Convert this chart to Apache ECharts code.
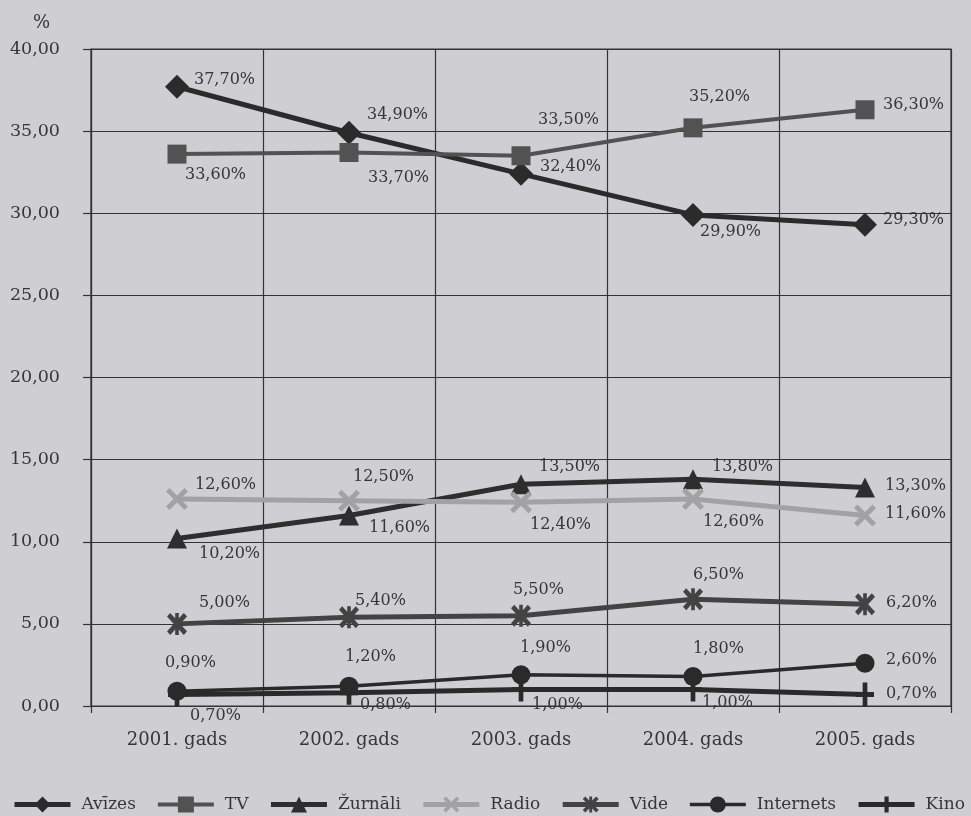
<!DOCTYPE html>
<html>
<head>
<meta charset="utf-8">
<script src="https://cdn.jsdelivr.net/npm/echarts@6/dist/echarts.min.js"></script>
<style>
  html, body { margin: 0; padding: 0; background: #cfced3; }
  #chart { width: 971px; height: 816px; }
</style>
</head>
<body>
<div id="chart"></div>
<script>
// Years on the horizontal axis
const categories = ['2001. gads', '2002. gads', '2003. gads', '2004. gads', '2005. gads'];

// Share of audience per media type, %
const avizes    = [37.7, 34.9, 32.4, 29.9, 29.3];
const tv        = [33.6, 33.7, 33.5, 35.2, 36.3];
const zurnali   = [10.2, 11.6, 13.5, 13.8, 13.3];
const radio     = [12.6, 12.5, 12.4, 12.6, 11.6];
const vide      = [5.0, 5.4, 5.5, 6.5, 6.2];
const internets = [0.9, 1.2, 1.9, 1.8, 2.6];
const kino      = [0.7, 0.8, 1.0, 1.0, 0.7];

// Value axis range
const yMin = 0, yMax = 40, yStep = 5;

// Where each value label sits relative to its marker centre (px)
const avizesLbl    = [[17, -7], [18, -18], [19, -7], [7, 17], [18, -5]];
const tvLbl        = [[8, 21], [19, 25], [17, -36], [-4, -31], [18, -5]];
const zurnaliLbl   = [[22, 15], [20, 12], [18, -17], [19, -12], [20, -2]];
const radioLbl     = [[18, -14], [4, -24], [9, 23], [10, 23], [20, -2]];
const videLbl      = [[22, -21], [6, -16], [-8, -26], [0, -24], [21, -1]];
const internetsLbl = [[-12, -28], [-4, -29], [-1, -27], [0, -28], [21, -3]];
const kinoLbl      = [[13, 21], [11, 12], [11, 15], [9, 13], [21, -1]];

const FONT = 'DejaVu Serif';
const TEXT = '#363636';

const X_PATH = 'path://M0,1.6L1.6,0L5,3.4L8.4,0L10,1.6L6.6,5L10,8.4L8.4,10L5,6.6L1.6,10L0,8.4L3.4,5Z';
const STAR_PATH = 'path://M0,1.6L1.6,0L5,3.4L8.4,0L10,1.6L6.6,5L10,8.4L8.4,10L5,6.6L1.6,10L0,8.4L3.4,5Z M4.1,0L5.9,0L5.9,10L4.1,10Z';
const PLUS_PATH = 'path://M3.7,0L6.3,0L6.3,4L10,4L10,6L6.3,6L6.3,10L3.7,10L3.7,6L0,6L0,4L3.7,4Z';

const pct = v => v.toFixed(2).replace('.', ',') + '%';

function makeSeries(name, values, offsets, color, width, symbol, size) {
  return {
    name: name,
    type: 'line',
    data: values.map((v, i) => ({ value: v, label: { offset: offsets[i] } })),
    symbol: symbol,
    symbolSize: size,
    showAllSymbol: true,
    lineStyle: { color: color, width: width },
    itemStyle: { color: color, borderWidth: 0 },
    label: {
      show: true,
      position: 'inside',
      align: 'left',
      verticalAlign: 'middle',
      formatter: p => pct(p.value),
      color: TEXT,
      fontFamily: FONT,
      fontSize: 16
    },
    emphasis: { disabled: true },
    animation: false
  };
}

const chart = echarts.init(document.getElementById('chart'), null, { renderer: 'canvas' });

chart.setOption({
  backgroundColor: '#cfced3',
  animation: false,
  grid: {
    left: 91, right: 20, top: 49, bottom: 110,
    show: true, borderColor: '#333', borderWidth: 1.2, backgroundColor: 'transparent'
  },
  graphic: [{
    type: 'text', left: 33, top: 14,
    style: { text: '%', fontFamily: FONT, fontSize: 18, fill: TEXT }
  }],
  xAxis: {
    type: 'category',
    data: categories,
    boundaryGap: true,
    axisLine: { show: true, lineStyle: { color: '#333', width: 1.2 } },
    axisTick: { show: true, length: 7, lineStyle: { color: '#333', width: 1.2 } },
    splitLine: { show: true, lineStyle: { color: '#333', width: 1.2 } },
    axisLabel: { color: TEXT, fontFamily: FONT, fontSize: 18, margin: 25 }
  },
  yAxis: {
    type: 'value',
    min: yMin, max: yMax, interval: yStep,
    axisLine: { show: true, lineStyle: { color: '#333', width: 1.2 } },
    axisTick: { show: true, length: 8, lineStyle: { color: '#333', width: 1.2 } },
    splitLine: { show: true, lineStyle: { color: '#333', width: 1.2 } },
    axisLabel: {
      color: TEXT, fontFamily: FONT, fontSize: 17.5, margin: 31,
      formatter: v => v.toFixed(2).replace('.', ',')
    }
  },
  legend: {
    top: 796,
    left: 12,
    padding: 0,
    itemWidth: 56,
    itemHeight: 20,
    itemGap: 20,
    lineStyle: { width: 'inherit' },
    textStyle: { color: TEXT, fontFamily: FONT, fontSize: 17, padding: [0, 0, 0, 6] },
    data: ['Avīzes', 'TV', 'Žurnāli', 'Radio', 'Vide', 'Internets', 'Kino']
  },
  series: [
    makeSeries('Avīzes', avizes, avizesLbl, '#2b2b2b', 5, 'diamond', 24),
    makeSeries('TV', tv, tvLbl, '#525252', 4, 'rect', 19),
    makeSeries('Žurnāli', zurnali, zurnaliLbl, '#2e2e2e', 5, 'triangle', [20, 20]),
    makeSeries('Radio', radio, radioLbl, '#a2a2a4', 5, X_PATH, 22),
    makeSeries('Vide', vide, videLbl, '#434343', 5, STAR_PATH, [20, 22]),
    makeSeries('Internets', internets, internetsLbl, '#2a2a2a', 3.5, 'circle', 19),
    makeSeries('Kino', kino, kinoLbl, '#2a2a2a', 5, PLUS_PATH, [18, 24])
  ]
});
</script>
</body>
</html>
